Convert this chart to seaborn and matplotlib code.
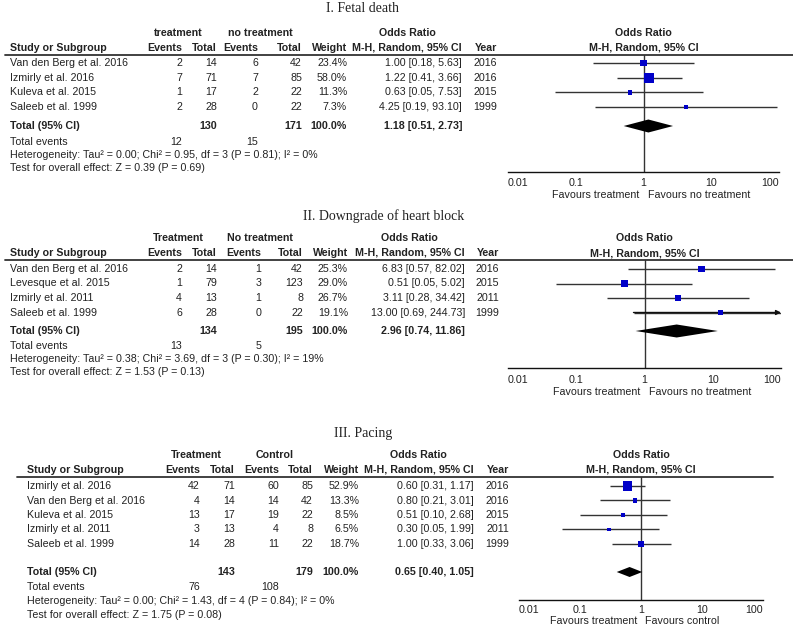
import numpy as np
import seaborn as sns
import matplotlib
matplotlib.use("Agg")
import matplotlib.pyplot as plt
from matplotlib.lines import Line2D


# I. Fetal death
fetal_study = ["Van den Berg et al. 2016", "Izmirly et al. 2016", "Kuleva et al. 2015", "Saleeb et al. 1999"]
fetal_tr_events = [2, 7, 1, 2]
fetal_tr_total = [14, 71, 17, 28]
fetal_ct_events = [6, 7, 2, 0]
fetal_ct_total = [42, 85, 22, 22]
fetal_weight = [23.4, 58.0, 11.3, 7.3]
fetal_or = [1.00, 1.22, 0.63, 4.25]
fetal_lo = [0.18, 0.41, 0.05, 0.19]
fetal_hi = [5.63, 3.66, 7.53, 93.10]
fetal_year = [2016, 2016, 2015, 1999]
fetal_pooled = [1.18, 0.51, 2.73]
fetal_totals = [130, 171]
fetal_events = [12, 15]
fetal_het = "Heterogeneity: Tau² = 0.00; Chi² = 0.95, df = 3 (P = 0.81); I² = 0%"
fetal_test = "Test for overall effect: Z = 0.39 (P = 0.69)"

# II. Downgrade of heart block
block_study = ["Van den Berg et al. 2016", "Levesque et al. 2015", "Izmirly et al. 2011", "Saleeb et al. 1999"]
block_tr_events = [2, 1, 4, 6]
block_tr_total = [14, 79, 13, 28]
block_ct_events = [1, 3, 1, 0]
block_ct_total = [42, 123, 8, 22]
block_weight = [25.3, 29.0, 26.7, 19.1]
block_or = [6.83, 0.51, 3.11, 13.00]
block_lo = [0.57, 0.05, 0.28, 0.69]
block_hi = [82.02, 5.02, 34.42, 244.73]
block_year = [2016, 2015, 2011, 1999]
block_pooled = [2.96, 0.74, 11.86]
block_totals = [134, 195]
block_events = [13, 5]
block_het = "Heterogeneity: Tau² = 0.38; Chi² = 3.69, df = 3 (P = 0.30); I² = 19%"
block_test = "Test for overall effect: Z = 1.53 (P = 0.13)"

# III. Pacing
pacing_study = ["Izmirly et al. 2016", "Van den Berg et al. 2016", "Kuleva et al. 2015", "Izmirly et al. 2011", "Saleeb et al. 1999"]
pacing_tr_events = [42, 4, 13, 3, 14]
pacing_tr_total = [71, 14, 17, 13, 28]
pacing_ct_events = [60, 14, 19, 4, 11]
pacing_ct_total = [85, 42, 22, 8, 22]
pacing_weight = [52.9, 13.3, 8.5, 6.5, 18.7]
pacing_or = [0.60, 0.80, 0.51, 0.30, 1.00]
pacing_lo = [0.31, 0.21, 0.10, 0.05, 0.33]
pacing_hi = [1.17, 3.01, 2.68, 1.99, 3.06]
pacing_year = [2016, 2016, 2015, 2011, 1999]
pacing_pooled = [0.65, 0.40, 1.05]
pacing_totals = [143, 179]
pacing_events = [76, 108]
pacing_het = "Heterogeneity: Tau² = 0.00; Chi² = 1.43, df = 4 (P = 0.84); I² = 0%"
pacing_test = "Test for overall effect: Z = 1.75 (P = 0.08)"

ticks = [0.01, 0.1, 1, 10, 100]
tick_labels = ["0.01", "0.1", "1", "10", "100"]

W, H = 793, 627
FS = 7.7
TXT = "#222222"
LINE = "#333333"
BLUE = "#0000c8"

sns.set_style("white")
plt.rcParams['font.family'] = ['Liberation Sans', 'DejaVu Sans']

fig = plt.figure(figsize=(W / 100, H / 100), dpi=100)


# text at pixel position (y from top)
def T(x, y, s, ha="left", bold=False, size=FS, **kw):
    fig.text(x / W, 1 - y / H, s, ha=ha, va="center", fontsize=size, color=TXT,
             fontweight="bold" if bold else "normal", **kw)


def hline(x0, x1, y, lw=1.3):
    fig.add_artist(Line2D([x0 / W, x1 / W], [1 - y / H] * 2, color=LINE, lw=lw))


def draw_panel(title, groups, favours, study, tr_ev, tr_tot, ct_ev, ct_tot, weight,
               odds, lo, hi, year, pooled, totals, events, het, test, ys, cols, fx, dh=6.5):
    # ys: title, head1, head2, line, row0, step, total, events, het, test, axis, tick labels, favours
    (y_title, y_h1, y_h2, y_line, y_row0, step, y_tot, y_ev, y_het, y_test,
     y_axis, y_lab, y_fav) = ys
    (x_study, x_tre, x_trt, x_cte, x_ctt, x_w, x_or, x_year, x_g1, x_g2, x_orh, x_line0, x_line1) = cols
    fx0, fx1 = fx

    T(title[1], y_title, title[0], ha="center", size=10, family=["Liberation Serif", "DejaVu Serif"])

    # table header
    T(x_g1, y_h1, groups[0], ha="center", bold=True)
    T(x_g2, y_h1, groups[1], ha="center", bold=True)
    T(x_orh, y_h1, "Odds Ratio", ha="center", bold=True)
    T(x_study, y_h2, "Study or Subgroup", bold=True)
    T(x_tre, y_h2, "Events", ha="right", bold=True)
    T(x_trt, y_h2, "Total", ha="right", bold=True)
    T(x_cte, y_h2, "Events", ha="right", bold=True)
    T(x_ctt, y_h2, "Total", ha="right", bold=True)
    T(x_w, y_h2, "Weight", ha="right", bold=True)
    T(x_or, y_h2, "M-H, Random, 95% CI", ha="right", bold=True)
    T(x_year, y_h2, "Year", ha="right", bold=True)
    hline(x_line0, x_line1, y_line)

    rows = [y_row0 + i * step for i in range(len(study))]
    for i, y in enumerate(rows):
        T(x_study, y, study[i])
        T(x_tre, y, str(tr_ev[i]), ha="right")
        T(x_trt, y, str(tr_tot[i]), ha="right")
        T(x_cte, y, str(ct_ev[i]), ha="right")
        T(x_ctt, y, str(ct_tot[i]), ha="right")
        T(x_w, y, f"{weight[i]:.1f}%", ha="right")
        T(x_or, y, f"{odds[i]:.2f} [{lo[i]:.2f}, {hi[i]:.2f}]", ha="right")
        T(x_year, y, str(year[i]), ha="right")

    T(x_study, y_tot, "Total (95% CI)", bold=True)
    T(x_trt, y_tot, str(totals[0]), ha="right", bold=True)
    T(x_ctt, y_tot, str(totals[1]), ha="right", bold=True)
    T(x_w, y_tot, "100.0%", ha="right", bold=True)
    T(x_or, y_tot, f"{pooled[0]:.2f} [{pooled[1]:.2f}, {pooled[2]:.2f}]", ha="right", bold=True)
    T(x_study, y_ev, "Total events")
    T(x_tre, y_ev, str(events[0]), ha="right")
    T(x_cte, y_ev, str(events[1]), ha="right")
    T(x_study, y_het, het)
    T(x_study, y_test, test)

    # forest plot axes: y data = pixel y
    ax = fig.add_axes([fx0 / W, 1 - y_axis / H, (fx1 - fx0) / W, (y_axis - y_line) / H])
    ax.set_xscale("log")
    ax.set_xlim(0.01, 100)
    ax.set_ylim(y_axis, y_line)
    ax.axvline(1, color=LINE, lw=1, zorder=1)

    hi_c = np.minimum(hi, 100)
    ax.hlines(rows, lo, hi_c, color=LINE, lw=1, zorder=2)
    for i, y in enumerate(rows):
        if hi[i] > 100:
            ax.annotate("", xy=(100, y), xytext=(lo[i], y), annotation_clip=False,
                        arrowprops=dict(arrowstyle="-|>", color="#111111", lw=1,
                                        mutation_scale=7, shrinkA=0, shrinkB=0))
    sns.scatterplot(x=odds, y=rows, size=weight, sizes=(0, 85), size_norm=(0, 100),
                    marker="s", color=BLUE, linewidth=0, legend=False, ax=ax, zorder=3)

    ax.fill([pooled[1], pooled[0], pooled[2], pooled[0]],
            [y_tot, y_tot - dh, y_tot, y_tot + dh], color="black", lw=0, zorder=3)

    for s in ["top", "left", "right"]:
        ax.spines[s].set_visible(False)
    ax.spines["bottom"].set_color("#111111")
    ax.spines["bottom"].set_linewidth(1)
    ax.set_yticks([])
    ax.set_xticks(ticks)
    ax.set_xticklabels([])
    ax.minorticks_off()
    ax.tick_params(axis="x", direction="inout", length=7, width=1, color="#111111")

    # tick labels, outer ones kept inside the axis span
    for k, (t, lab) in enumerate(zip(ticks, tick_labels)):
        ha = "left" if k == 0 else ("right" if k == len(ticks) - 1 else "center")
        ax.text(t, y_lab, lab, ha=ha, va="center", fontsize=FS, color=TXT, clip_on=False)

    # plot header
    ax.text(1, y_h1, "Odds Ratio", ha="center", va="center", fontsize=FS, fontweight="bold",
            color=TXT, clip_on=False)
    ax.text(1, y_h2, "M-H, Random, 95% CI", ha="center", va="center", fontsize=FS,
            fontweight="bold", color=TXT, clip_on=False)
    ax.text(0.88, y_fav, favours[0], ha="right", va="center", fontsize=FS, color=TXT, clip_on=False)
    ax.text(1.15, y_fav, favours[1], ha="left", va="center", fontsize=FS, color=TXT, clip_on=False)
    return ax


draw_panel(("I. Fetal death", 363), ("treatment", "no treatment"),
           ("Favours treatment", "Favours no treatment"),
           fetal_study, fetal_tr_events, fetal_tr_total, fetal_ct_events, fetal_ct_total,
           fetal_weight, fetal_or, fetal_lo, fetal_hi, fetal_year, fetal_pooled,
           fetal_totals, fetal_events, fetal_het, fetal_test,
           (8, 33, 48, 55, 63, 14.7, 126, 142, 155, 168, 172, 183, 195),
           (10, 182, 217, 258, 302, 347, 462, 497, 178, 260, 407, 5, 793), (508, 779))

draw_panel(("II. Downgrade of heart block", 384), ("Treatment", "No treatment"),
           ("Favours treatment", "Favours no treatment"),
           block_study, block_tr_events, block_tr_total, block_ct_events, block_ct_total,
           block_weight, block_or, block_lo, block_hi, block_year, block_pooled,
           block_totals, block_events, block_het, block_test,
           (216, 238, 253, 260, 269, 14.5, 331, 346, 359, 372, 368, 380, 392),
           (10, 182, 217, 261, 303, 348, 465, 499, 178, 260, 409, 5, 793), (508, 781))

draw_panel(("III. Pacing", 363), ("Treatment", "Control"),
           ("Favours treatment", "Favours control"),
           pacing_study, pacing_tr_events, pacing_tr_total, pacing_ct_events, pacing_ct_total,
           pacing_weight, pacing_or, pacing_lo, pacing_hi, pacing_year, pacing_pooled,
           pacing_totals, pacing_events, pacing_het, pacing_test,
           (433, 455, 470, 477, 486, 14.5, 572, 587, 601, 615, 600, 610, 621),
           (27, 200, 235, 279, 313, 359, 474, 509, 196, 275, 418, 17, 773), (519, 763), dh=5)

fig.savefig("out.png", dpi=100)
